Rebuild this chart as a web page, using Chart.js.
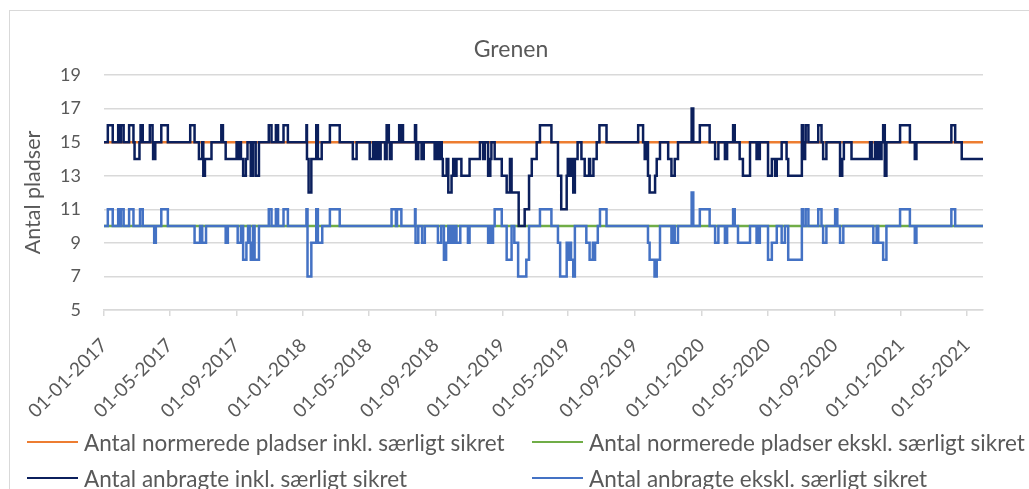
<!doctype html>
<html>
<head>
    <meta charset="utf-8">
    <title>Grenen</title>
    <script src="https://cdn.jsdelivr.net/npm/chart.js"></script>
    <style>
        body { margin: 0; background: #fff; font-family: Lato, sans-serif; }
        .wrapper { position: relative; width: 1029px; height: 489px; overflow: hidden; }
        .frame { position: absolute; left: 9px; top: 10px; width: 1100px; height: 600px; border: 1px solid #d9d9d9; }
        canvas { position: absolute; left: 0; top: 0; }
        .title { position: absolute; left: 311px; width: 400px; top: 33px; text-align: center; color: #595959; font-size: 23px; line-height: 30px; }
        .legend { position: absolute; left: 0; top: 0; width: 1029px; height: 489px; pointer-events: none; }
        .item { position: absolute; display: flex; align-items: center; color: #595959; font-size: 22.5px; white-space: nowrap; }
        .swatch { width: 51px; height: 2.5px; margin-right: 6px; }
    </style>
</head>

<body>
    <div class="wrapper">
        <div class="frame"></div>
        <canvas id="chart" width="1029" height="489"></canvas>
        <div class="title">Grenen</div>
        <div class="legend" id="legend"></div>
    </div>

    <script>
        // Days are counted from 01-01-2017, each pair is [day, value] where the value starts
        var startDate = Date.UTC(2017, 0, 1);
        var endDay = 1611;

        var tickDates = ['2017-01-01', '2017-05-01', '2017-09-01', '2018-01-01', '2018-05-01', '2018-09-01',
                         '2019-01-01', '2019-05-01', '2019-09-01', '2020-01-01', '2020-05-01', '2020-09-01',
                         '2021-01-01', '2021-05-01'];

        var seriesNames = ['Antal normerede pladser inkl. særligt sikret', 'Antal normerede pladser ekskl. særligt sikret',
                           'Antal anbragte inkl. særligt sikret', 'Antal anbragte ekskl. særligt sikret'];

        var normeredeInkl = [[0, 15]];
        var normeredeEkskl = [[0, 10]];

        var anbragteInkl = [[0,15],[7,16],[16,15],[26,16],[29,15],[31,16],[36,15],[46,16],[54,15],[56,14],[65,15],[67,16],[71,15],
            [84,16],[89,15],[90,14],[94,15],[105,16],[117,15],[158,16],[166,15],[174,14],[180,15],[182,13],[185,14],[197,15],
            [215,16],[218,15],[223,14],[243,15],[245,14],[249,15],[251,14],[255,13],[260,14],[263,15],[269,13],[273,15],[278,13],[284,15],
            [302,16],[307,15],[315,16],[319,15],[329,16],[337,15],[371,16],[372,14],[375,12],[380,14],[389,16],[392,14],[399,15],
            [414,16],[432,15],[456,14],[463,15],[487,14],[493,15],[496,14],[500,15],[504,14],[507,15],[515,14],[518,16],[522,15],[524,14],[527,15],
            [541,16],[545,15],[546,16],[548,15],[570,16],[572,14],[576,15],[582,14],[586,15],[606,14],[609,15],[612,14],[616,15],[619,14],
            [621,13],[628,14],[631,12],[637,13],[640,14],[643,13],[646,14],[655,13],[670,14],[689,15],[695,14],[698,15],[704,13],[708,14],
            [710,15],[716,14],[729,13],[738,12],[744,14],[747,12],[760,10],[771,11],[779,13],[784,14],[793,15],[799,16],[820,15],[832,13],
            [838,11],[848,13],[850,14],[854,13],[856,14],[860,12],[863,14],[868,15],[875,14],[881,13],[889,14],[891,13],[897,14],[903,15],
            [908,16],[921,15],[979,16],[988,15],[991,14],[994,15],[997,13],[1000,12],[1010,13],[1013,14],[1019,15],[1034,14],[1040,13],
            [1046,14],[1052,15],[1077,17],[1080,15],[1092,16],[1110,15],[1120,14],[1126,15],[1138,14],[1142,15],[1153,16],[1156,15],
            [1165,14],[1171,13],[1184,15],[1196,14],[1198,15],[1200,14],[1202,15],[1217,13],[1224,14],[1230,13],[1233,14],[1242,15],
            [1251,14],[1254,13],[1279,16],[1281,14],[1285,15],[1286,16],[1291,15],[1309,16],[1315,15],[1318,14],[1324,15],[1349,13],
            [1353,14],[1356,15],[1370,14],[1404,15],[1407,14],[1413,15],[1416,14],[1419,15],[1421,14],[1425,15],[1428,16],[1431,13],
            [1434,15],[1459,16],[1477,15],[1486,14],[1489,15],[1553,16],[1560,15],[1572,14]];

        var anbragteEkskl = [[0,10],[7,11],[16,10],[26,11],[29,10],[31,11],[36,10],[46,11],[54,10],[66,11],[71,10],[92,9],[95,10],
            [105,11],[117,10],[166,9],[176,10],[180,9],[187,10],[223,9],[227,10],[245,9],[251,10],[255,8],[261,9],[264,10],[267,9],
            [269,8],[273,10],[276,8],[284,10],[302,11],[307,10],[315,11],[319,10],[329,11],[337,10],[371,11],[373,7],[380,9],[389,11],
            [392,9],[400,10],[414,11],[432,10],[527,11],[535,10],[537,11],[545,10],[570,11],[571,9],[576,10],[583,9],[588,10],[612,9],
            [618,10],[623,8],[627,9],[631,10],[634,9],[636,10],[639,9],[642,10],[646,9],[653,10],[667,9],[670,10],[704,9],[707,10],
            [709,9],[713,10],[716,11],[729,10],[738,8],[747,10],[752,9],[759,7],[774,8],[779,10],[799,11],[820,10],[832,9],[836,7],
            [848,9],[850,8],[854,9],[856,8],[860,7],[863,10],[884,9],[890,8],[896,9],[898,8],[900,9],[905,10],[909,11],[921,10],
            [997,9],[1000,8],[1009,7],[1013,8],[1019,10],[1040,9],[1043,10],[1046,9],[1052,10],[1077,12],[1080,10],[1092,11],[1110,10],
            [1120,9],[1126,10],[1138,9],[1142,10],[1153,11],[1156,10],[1162,9],[1184,10],[1196,9],[1198,10],[1200,9],[1202,10],
            [1217,8],[1224,9],[1233,10],[1242,9],[1248,10],[1254,8],[1279,11],[1281,10],[1286,11],[1291,10],[1309,11],[1315,10],
            [1318,9],[1324,10],[1340,11],[1344,10],[1349,9],[1355,10],[1410,9],[1416,10],[1419,9],[1428,8],[1434,10],[1459,11],
            [1477,10],[1486,9],[1489,10],[1553,11],[1560,10]];

        var colors = ['#ED7D31', '#70AD47', '#0B1F5C', '#4472C4'];

        // Turn the [day, value] pairs into points, holding the last value to the end
        function toPoints(pairs) {
            var pts = pairs.map(function (p) { return { x: p[0], y: p[1] }; });
            pts.push({ x: endDay, y: pairs[pairs.length - 1][1] });
            return pts;
        }

        function dayOf(iso) {
            var d = iso.split('-');
            return Math.round((Date.UTC(+d[0], +d[1] - 1, +d[2]) - startDate) / 86400000);
        }

        function fmtDay(v) {
            var d = new Date(startDate + v * 86400000);
            var dd = ('0' + d.getUTCDate()).slice(-2), mm = ('0' + (d.getUTCMonth() + 1)).slice(-2);
            return dd + '-' + mm + '-' + d.getUTCFullYear();
        }

        var tickDays = tickDates.map(dayOf);

        Chart.defaults.font.family = 'Lato, sans-serif';
        Chart.defaults.color = '#595959';

        var allSeries = [normeredeInkl, normeredeEkskl, anbragteInkl, anbragteEkskl];
        var datasets = allSeries.map(function (s, i) {
            return {
                label: seriesNames[i],
                data: toPoints(s),
                borderColor: colors[i],
                backgroundColor: colors[i],
                borderWidth: 2.5,
                pointRadius: 0,
                stepped: true,
                fill: false,
                order: 4 - i
            };
        });

        var ctx = document.getElementById('chart').getContext('2d');
        var chart = new Chart(ctx, {
            type: 'line',
            data: { datasets: datasets },
            options: {
                responsive: false,
                animation: false,
                layout: { padding: { left: 16, right: 46, top: 75, bottom: 0 } },
                plugins: {
                    legend: { display: false },
                    tooltip: { enabled: false },
                    title: { display: false }
                },
                scales: {
                    x: {
                        type: 'linear',
                        min: 0,
                        max: endDay,
                        afterBuildTicks: function (scale) {
                            scale.ticks = tickDays.map(function (v) { return { value: v }; });
                        },
                        afterFit: function (scale) { scale.height = 179; },
                        ticks: {
                            autoSkip: false,
                            minRotation: 45,
                            maxRotation: 45,
                            padding: 18,
                            font: { size: 19 },
                            callback: function (v) { return fmtDay(v); }
                        },
                        grid: { drawOnChartArea: false, drawTicks: true, tickLength: 6, color: '#d9d9d9', lineWidth: 1.5 },
                        border: { color: '#d9d9d9', width: 1.5 }
                    },
                    y: {
                        min: 5,
                        max: 19,
                        afterFit: function (scale) { scale.width = 88; },
                        ticks: { stepSize: 2, padding: 23, font: { size: 18 } },
                        grid: { color: '#d9d9d9', lineWidth: 1.5, drawTicks: false },
                        border: { display: false },
                        title: { display: true, text: 'Antal pladser', font: { size: 21.5 }, color: '#595959' }
                    }
                }
            }
        });

        // Legend in two columns, like the original
        var legend = document.getElementById('legend');
        var slots = [[27, 442], [532, 442], [27, 478], [532, 478]];
        chart.data.datasets.forEach(function (ds, i) {
            var item = document.createElement('div');
            item.className = 'item';
            item.style.left = slots[i][0] + 'px';
            item.style.top = (slots[i][1] - 13) + 'px';
            item.style.height = '26px';
            item.innerHTML = '<span class="swatch" style="background:' + ds.borderColor + '"></span><span>' + ds.label + '</span>';
            legend.appendChild(item);
        });
    </script>
</body>
</html>
